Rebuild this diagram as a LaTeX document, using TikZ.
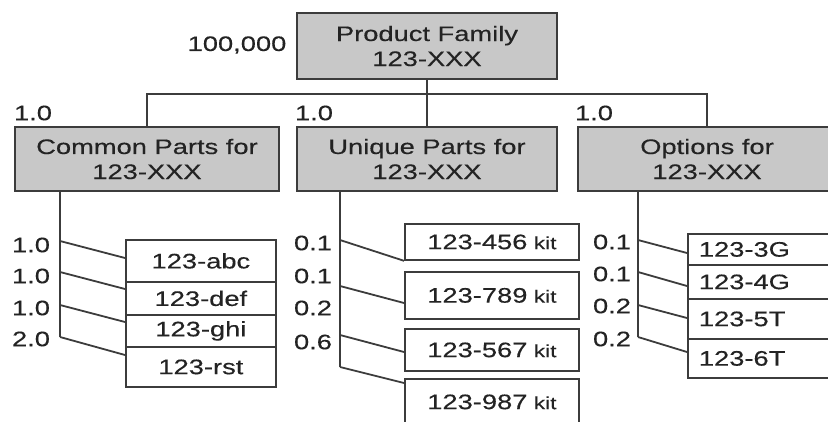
\documentclass[tikz,border=0pt]{standalone}
\usepackage{fontspec}
\setmainfont[FakeStretch=1.3, FakeBold=0.3]{Liberation Sans}
\usepackage{tikz}
\usetikzlibrary{positioning}
\definecolor{linegray}{RGB}{60,60,60}
\definecolor{boxgray}{RGB}{200,200,200}
\definecolor{textgray}{RGB}{35,35,35}
\newcommand{\kit}{{\fontsize{17.5}{19}\selectfont\ kit}}

\begin{document}
\begin{tikzpicture}[x=1pt, y=-1pt, line width=1.8pt,
    every node/.style={text=textgray, font=\fontsize{21}{25}\selectfont},
    headbox/.style={draw=linegray, fill=boxgray, align=center, inner sep=0pt},
    partbox/.style={draw=linegray, fill=white, anchor=north west, inner sep=0pt},
    qty/.style={inner sep=0pt}]
  \useasboundingbox (0,0) rectangle (828,421);
  \clip (0,0) rectangle (828,421);

  % Top level
  \node[headbox, minimum width=260, minimum height=66] (family) at (427,46) {Product Family\\123-XXX};
  \node[qty] (famqty) at (237,45) {100,000};

  % Second level
  \node[headbox, minimum width=264, minimum height=64] (common) at (147,159) {Common Parts for\\123-XXX};
  \node[headbox, minimum width=260, minimum height=64] (unique) at (427,159) {Unique Parts for\\123-XXX};
  \node[headbox, minimum width=258, minimum height=64] (options) at (707,159) {Options for\\123-XXX};
  \node[qty] (comqty) at (33,113) {1.0};
  \node[qty] (uniqty) at (314,113) {1.0};
  \node[qty] (optqty) at (594,113) {1.0};

  % Tree connectors
  \coordinate (bus) at (427,94);
  \draw[linegray] (family.south) -- (unique.north);
  \draw[linegray] (common.north) |- (bus) -| (options.north);

  % Common parts
  \node[partbox, minimum width=150, minimum height=42] (abc) at (125,239) {123-abc};
  \node[partbox, minimum width=150, minimum height=33] (def) at (125,281) {123-def};
  \node[partbox, minimum width=150, minimum height=32] (ghi) at (125,314) {123-ghi};
  \node[partbox, minimum width=150, minimum height=40] (rst) at (125,346) {123-rst};
  \coordinate (c1) at (60,241);
  \coordinate (c2) at (60,272);
  \coordinate (c3) at (60,305);
  \coordinate (c4) at (60,337);
  \draw[linegray] (common.south -| c4) -- (c4);
  \draw[linegray] (c1) -- ([yshift=-19pt]abc.north west);
  \draw[linegray] (c2) -- ([yshift=-8pt]def.north west);
  \draw[linegray] (c3) -- ([yshift=-8pt]ghi.north west);
  \draw[linegray] (c4) -- ([yshift=-9pt]rst.north west);
  \node[qty] (abcqty) at (31,245) {1.0};
  \node[qty] (defqty) at (31,276) {1.0};
  \node[qty] (ghiqty) at (31,308) {1.0};
  \node[qty] (rstqty) at (31,339) {2.0};

  % Unique parts
  \node[partbox, minimum width=174, minimum height=36] (k456) at (404,223) {123-456\kit};
  \node[partbox, minimum width=174, minimum height=47] (k789) at (404,271) {123-789\kit};
  \node[partbox, minimum width=174, minimum height=42] (k567) at (404,328) {123-567\kit};
  \node[partbox, minimum width=174, minimum height=46] (k987) at (404,378) {123-987\kit};
  \coordinate (u1) at (340,240);
  \coordinate (u2) at (340,286);
  \coordinate (u3) at (340,335);
  \coordinate (u4) at (340,367);
  \draw[linegray] (unique.south -| u4) -- (u4);
  \draw[linegray] (u1) -- (k456.south west);
  \draw[linegray] (u2) -- ([yshift=-32pt]k789.north west);
  \draw[linegray] (u3) -- ([yshift=-24pt]k567.north west);
  \draw[linegray] (u4) -- ([yshift=-5pt]k987.north west);
  \node[qty] (k456qty) at (313,243) {0.1};
  \node[qty] (k789qty) at (313,276) {0.1};
  \node[qty] (k567qty) at (313,308) {0.2};
  \node[qty] (k987qty) at (313,342) {0.6};

  % Options
  \node[partbox, minimum width=150, minimum height=31, text width=128] (g3) at (687,233) {123-3G};
  \node[partbox, minimum width=150, minimum height=34, text width=128] (g4) at (687,264) {123-4G};
  \node[partbox, minimum width=150, minimum height=40, text width=128] (t5) at (687,298) {123-5T};
  \node[partbox, minimum width=150, minimum height=39, text width=128] (t6) at (687,338) {123-6T};
  \coordinate (o1) at (638,240);
  \coordinate (o2) at (638,272);
  \coordinate (o3) at (638,305);
  \coordinate (o4) at (638,337);
  \draw[linegray] (options.south -| o4) -- (o4);
  \draw[linegray] (o1) -- ([yshift=-20pt]g3.north west);
  \draw[linegray] (o2) -- ([yshift=-22pt]g4.north west);
  \draw[linegray] (o3) -- ([yshift=-20pt]t5.north west);
  \draw[linegray] (o4) -- ([yshift=-14pt]t6.north west);
  \node[qty] (g3qty) at (612,242) {0.1};
  \node[qty] (g4qty) at (612,274) {0.1};
  \node[qty] (t5qty) at (612,306) {0.2};
  \node[qty] (t6qty) at (612,339) {0.2};
\end{tikzpicture}
\end{document}
